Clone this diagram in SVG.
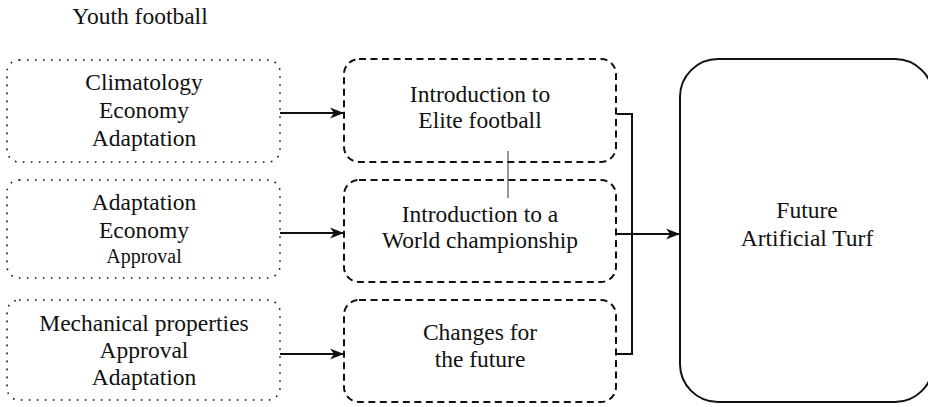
<svg xmlns="http://www.w3.org/2000/svg" width="928" height="407" viewBox="0 0 928 407">
<style>
text{font-family:"Liberation Serif","Times New Roman",serif;font-size:23.5px;fill:#111;text-anchor:middle}
.dot{fill:none;stroke:#111;stroke-width:1.6;stroke-dasharray:1.6 6.4;stroke-linecap:butt}
.dash{fill:none;stroke:#111;stroke-width:2;stroke-dasharray:7 4.5}
.solid{fill:none;stroke:#111;stroke-width:2}
.conn{fill:none;stroke:#111;stroke-width:2}
.thin{fill:none;stroke:#333;stroke-width:1}
</style>
<defs>
<marker id="arr" markerWidth="15" markerHeight="12" refX="14" refY="6" orient="auto" markerUnits="userSpaceOnUse">
<path d="M0,0.5 L14,6 L0,11.5 L4,6 Z" fill="#111"/>
</marker>
</defs>
<text x="140" y="24">Youth football</text>
<g id="in1">
<rect class="dot" x="7" y="60" width="273" height="102" rx="12"/>
<text x="144" y="90">Climatology</text>
<text x="144" y="118">Economy</text>
<text x="144" y="146">Adaptation</text>
</g>
<g id="in2">
<rect class="dot" x="7" y="180" width="273" height="98" rx="12"/>
<text x="144" y="210">Adaptation</text>
<text x="144" y="238">Economy</text>
<text x="144" y="263" style="font-size:20px">Approval</text>
</g>
<g id="in3">
<rect class="dot" x="7" y="300" width="273" height="100" rx="12"/>
<text x="144" y="331">Mechanical properties</text>
<text x="144" y="358">Approval</text>
<text x="144" y="385">Adaptation</text>
</g>
<g id="mid1">
<rect class="dash" x="344" y="59" width="272" height="103" rx="15"/>
<text x="480" y="102">Introduction to</text>
<text x="480" y="128">Elite football</text>
</g>
<g id="mid2">
<rect class="dash" x="344" y="180" width="272" height="102" rx="15"/>
<text x="480" y="222">Introduction to a</text>
<text x="480" y="248">World championship</text>
</g>
<g id="mid3">
<rect class="dash" x="344" y="300" width="272" height="102" rx="15"/>
<text x="480" y="340">Changes for</text>
<text x="480" y="367">the future</text>
</g>
<g id="out">
<rect class="solid" x="680" y="59" width="253" height="343" rx="38"/>
<text x="807" y="218">Future</text>
<text x="807" y="246">Artificial Turf</text>
</g>
<g id="connectors">
<line class="conn" x1="280" y1="113" x2="344" y2="113" marker-end="url(#arr)"/>
<line class="conn" x1="280" y1="233" x2="344" y2="233" marker-end="url(#arr)"/>
<line class="conn" x1="280" y1="354" x2="344" y2="354" marker-end="url(#arr)"/>
<polyline class="conn" points="617,114 632,114 632,354 617,354"/>
<line class="conn" x1="617" y1="234" x2="680" y2="234" marker-end="url(#arr)"/>
<line class="thin" x1="508" y1="151" x2="508" y2="198"/>
</g>
</svg>
